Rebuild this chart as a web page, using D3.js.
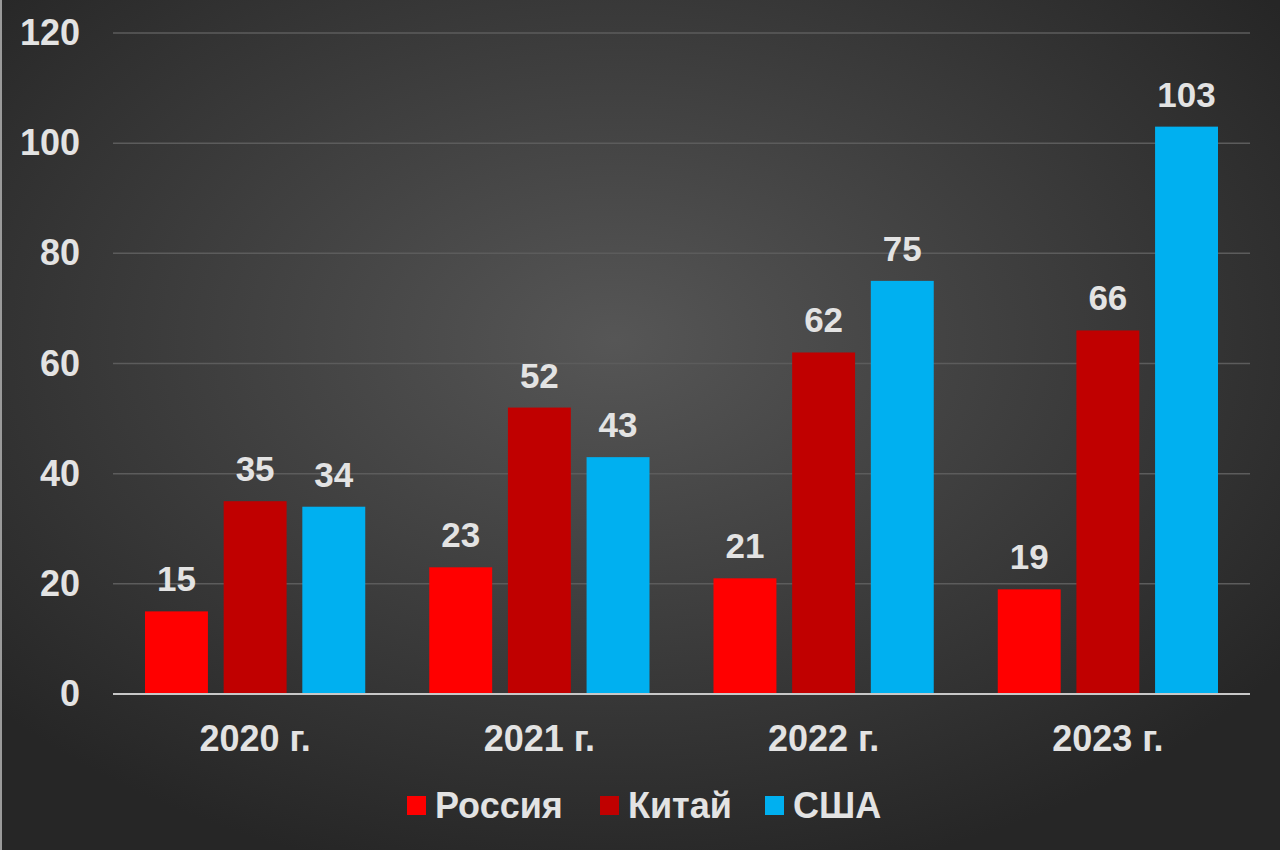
<html>
<head>
<meta charset="utf-8">
<script src="https://d3js.org/d3.v7.min.js"></script>
<style>
  body { margin: 0; background: #2b2b2b; }
</style>
</head>
<body>
<div id="my_dataviz"></div>
<script>
// data
const years = ["2020 г.", "2021 г.", "2022 г.", "2023 г."];
const seriesNames = ["Россия", "Китай", "США"];
const russia = [15, 23, 21, 19];
const china = [35, 52, 62, 66];
const usa = [34, 43, 75, 103];
const yTicks = [0, 20, 40, 60, 80, 100, 120];
const colors = ["#ff0000", "#c00000", "#00b0f0"];

const W = 1280, H = 850;
const margin = {top: 33, right: 30, bottom: 156, left: 113};
const width = W - margin.left - margin.right,
      height = H - margin.top - margin.bottom;

const svg = d3.select("#my_dataviz")
  .append("svg")
  .attr("width", W)
  .attr("height", H);

// background
const defs = svg.append("defs");
const grad = defs.append("radialGradient")
  .attr("id", "bg")
  .attr("cx", "48%").attr("cy", "40%").attr("r", "65%");
grad.append("stop").attr("offset", "0%").attr("stop-color", "#565656");
grad.append("stop").attr("offset", "100%").attr("stop-color", "#262626");
svg.append("rect").attr("width", W).attr("height", H).attr("fill", "url(#bg)");
svg.append("rect").attr("x", 0).attr("y", 0).attr("width", 2).attr("height", H).attr("fill", "#9a9a9a");

const g = svg.append("g").attr("transform", `translate(${margin.left},${margin.top})`);

const y = d3.scaleLinear().domain([0, 120]).range([height, 0]);
const x = d3.scaleBand().domain(years).range([0, width]).paddingInner(0).paddingOuter(0);
const xs = d3.scaleBand().domain(seriesNames).range([32, x.bandwidth() - 32]).paddingInner(0.2);

const fontFam = "'Liberation Sans', Arial, sans-serif";
const txt = "#e3e3e3";

// grid
g.append("g")
  .selectAll("line")
  .data(yTicks.filter(d => d > 0))
  .join("line")
  .attr("x1", 0).attr("x2", width)
  .attr("y1", d => y(d)).attr("y2", d => y(d))
  .attr("stroke", "#5c5c5c").attr("stroke-width", 1.5);

// y axis labels
const yAxis = g.append("g")
  .call(d3.axisLeft(y).tickValues(yTicks).tickSize(0).tickPadding(33));
yAxis.select(".domain").remove();
yAxis.selectAll("text")
  .attr("fill", txt).style("font-family", fontFam)
  .style("font-size", "36px").style("font-weight", "bold");

const data = [];
years.forEach((yr, i) => {
  [russia, china, usa].forEach((arr, j) => {
    data.push({year: yr, series: seriesNames[j], value: arr[i], color: colors[j]});
  });
});

// bars
g.selectAll(".bar")
  .data(data)
  .join("rect")
  .attr("class", "bar")
  .attr("x", d => x(d.year) + xs(d.series))
  .attr("y", d => y(d.value))
  .attr("width", xs.bandwidth())
  .attr("height", d => height - y(d.value))
  .attr("fill", d => d.color);

// value labels
g.selectAll(".lbl")
  .data(data)
  .join("text")
  .attr("class", "lbl")
  .attr("x", d => x(d.year) + xs(d.series) + xs.bandwidth() / 2)
  .attr("y", d => y(d.value) - 20)
  .attr("text-anchor", "middle")
  .attr("fill", txt)
  .style("font-family", fontFam).style("font-size", "35px").style("font-weight", "bold")
  .text(d => d.value);

// baseline
g.append("line")
  .attr("x1", 0).attr("x2", width)
  .attr("y1", height).attr("y2", height)
  .attr("stroke", "#c8c8c8").attr("stroke-width", 2);

// x axis
const xAxis = g.append("g")
  .attr("transform", `translate(0,${height})`)
  .call(d3.axisBottom(x).tickSize(0).tickPadding(31));
xAxis.select(".domain").remove();
xAxis.selectAll("text")
  .attr("fill", txt).style("font-family", fontFam)
  .style("font-size", "36px").style("font-weight", "bold");

// legend
const legendX = [407, 600, 765];
const legend = svg.append("g");
seriesNames.forEach((s, i) => {
  legend.append("rect")
    .attr("x", legendX[i]).attr("y", 796)
    .attr("width", 19).attr("height", 19)
    .attr("fill", colors[i]);
  legend.append("text")
    .attr("x", legendX[i] + 28).attr("y", 818)
    .attr("fill", txt)
    .style("font-family", fontFam).style("font-size", "36px").style("font-weight", "bold")
    .text(s);
});
</script>
</body>
</html>
